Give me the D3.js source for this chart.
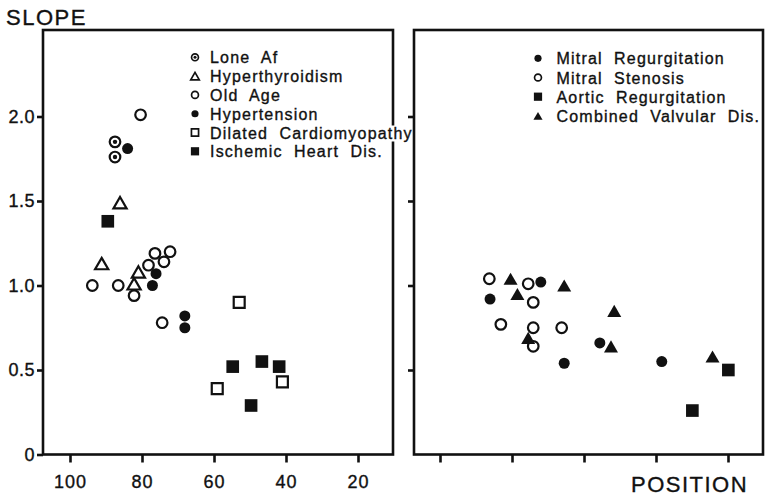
<!DOCTYPE html>
<html>
<head>
<meta charset="utf-8">
<script src="https://cdn.jsdelivr.net/npm/d3@7"></script>
<style>
  body { margin: 0; background: #fff; }
  svg { display: block; font-family: "Liberation Sans", Arial, sans-serif; }
  text { fill: #111; stroke: #111; stroke-width: 0.35px; }
</style>
</head>
<body>
<div id="chart"></div>
<script>
// values: [position, slope]
const loneAf = [[87.5, 1.85], [87.5, 1.76]];
const hyperthyroidism = [[86.1, 1.49], [91.2, 1.13], [81.0, 1.08], [82.2, 1.01]];
const oldAge = [[80.4, 2.01], [76.4, 1.19], [72.2, 1.20], [73.9, 1.14], [78.2, 1.12],
  [93.8, 1.00], [86.6, 1.00], [82.2, 0.94], [74.4, 0.78]];
const hypertension = [[84.0, 1.81], [76.1, 1.07], [77.1, 1.00], [68.1, 0.82], [68.1, 0.75]];
const dilatedCardio = [[53.0, 0.90], [59.1, 0.39], [41.0, 0.43]];
const ischemic = [[89.5, 1.38], [54.8, 0.52], [46.7, 0.55], [41.9, 0.52], [49.7, 0.29]];

const mitralRegurg = [[86.1, 0.92], [72.0, 1.02], [55.6, 0.66], [65.5, 0.54], [38.4, 0.55]];
const mitralStenosis = [[86.3, 1.04], [75.5, 1.01], [74.1, 0.90], [83.1, 0.77], [74.1, 0.75],
  [66.2, 0.75], [74.1, 0.64]];
const aorticRegurg = [[19.9, 0.50], [29.9, 0.26]];
const combinedValv = [[80.4, 1.04], [65.5, 1.00], [78.5, 0.95], [51.6, 0.85], [75.5, 0.69],
  [52.5, 0.64], [24.3, 0.58]];

const xTicks = [100, 80, 60, 40, 20];
const yTicks = [0, 0.5, 1.0, 1.5, 2.0];
const yTickLabels = ['0', '0.5', '1.0', '1.5', '2.0'];

const leftLegend = ['Lone  Af', 'Hyperthyroidism', 'Old  Age', 'Hypertension',
  'Dilated  Cardiomyopathy', 'Ischemic  Heart  Dis.'];
const rightLegend = ['Mitral  Regurgitation', 'Mitral  Stenosis', 'Aortic  Regurgitation',
  'Combined  Valvular  Dis.'];

const W = 765, H = 498;
const plotTop = 30, plotBottom = 454.5;

const svg = d3.select('#chart').append('svg').attr('width', W).attr('height', H);

const y = d3.scaleLinear().domain([0, 2]).range([plotBottom, 116.5]);
const xLeft = d3.scaleLinear().domain([100, 20]).range([70, 358]);
const xRight = d3.scaleLinear().domain([100, 20]).range([440, 728]);

// triangle centred on its bounding box, so it sits where it was read
const triBox = {
  draw(ctx, size) {
    const s = Math.sqrt(size * 4 / Math.sqrt(3)), h = s * Math.sqrt(3) / 2;
    ctx.moveTo(0, -h / 2);
    ctx.lineTo(s / 2, h / 2);
    ctx.lineTo(-s / 2, h / 2);
    ctx.closePath();
  }
};

const marker = {
  dot:    { type: d3.symbolCircle, size: Math.PI * 5.5 * 5.5, fill: '#111', stroke: 'none' },
  ring:   { type: d3.symbolCircle, size: Math.PI * 5.3 * 5.3, fill: '#fff', stroke: '#111' },
  target: { type: d3.symbolCircle, size: Math.PI * 5.3 * 5.3, fill: '#fff', stroke: '#111', inner: true },
  tri:    { type: triBox, size: 75, fill: '#fff', stroke: '#111' },
  triF:   { type: triBox, size: 85, fill: '#111', stroke: 'none' },
  box:    { type: d3.symbolSquare, size: 120, fill: '#fff', stroke: '#111' },
  boxF:   { type: d3.symbolSquare, size: 160, fill: '#111', stroke: 'none' }
};

function drawPoints(g, data, x, m) {
  const sym = d3.symbol().type(m.type).size(m.size);
  g.selectAll(null).data(data).enter().append('path')
    .attr('transform', d => 'translate(' + x(d[0]) + ',' + y(d[1]) + ')')
    .attr('d', sym)
    .attr('fill', m.fill)
    .attr('stroke', m.stroke)
    .attr('stroke-width', 2.2);
  if (m.inner) {
    g.selectAll(null).data(data).enter().append('circle')
      .attr('cx', d => x(d[0])).attr('cy', d => y(d[1])).attr('r', 2.2).attr('fill', '#111');
  }
}

function drawLegend(g, labels, marks, mx, tx, y0, step) {
  labels.forEach(function(label, i) {
    const cy = y0 + i * step, m = marks[i];
    const scale = 0.65;
    g.append('path')
      .attr('transform', 'translate(' + mx + ',' + cy + ') scale(' + scale + ')')
      .attr('d', d3.symbol().type(m.type).size(m.size))
      .attr('fill', m.fill).attr('stroke', m.stroke).attr('stroke-width', 2.6);
    if (m.inner) {
      g.append('circle').attr('cx', mx).attr('cy', cy).attr('r', 1.5).attr('fill', '#111');
    }
    g.append('text')
      .attr('class', 'legend-label')
      .attr('x', tx).attr('y', cy + 6)
      .style('white-space', 'pre')
      .style('font-size', '16px')
      .style('letter-spacing', '1.2px')
      .text(label);
  });
}

function frame(x0, x1) {
  svg.append('rect')
    .attr('x', x0).attr('y', plotTop)
    .attr('width', x1 - x0).attr('height', plotBottom - plotTop)
    .attr('fill', 'none').attr('stroke', '#111').attr('stroke-width', 2.6);
}

// ---------- left panel ----------
frame(43, 393);
const left = svg.append('g');

left.append('g')
  .attr('transform', 'translate(43,0)')
  .call(d3.axisLeft(y).tickValues(yTicks).tickSize(6).tickPadding(2)
    .tickFormat((d, i) => yTickLabels[i]))
  .call(g => g.select('.domain').remove())
  .call(g => g.selectAll('line').attr('stroke', '#111').attr('stroke-width', 2.6))
  .call(g => g.selectAll('text').attr('fill', '#111').style('font-size', '18px')
    .style('font-family', '"Liberation Sans", Arial, sans-serif').style('letter-spacing', '0.5px'));

left.append('g')
  .attr('transform', 'translate(0,' + plotBottom + ')')
  .call(d3.axisBottom(xLeft).tickValues(xTicks).tickSize(8).tickPadding(13))
  .call(g => g.select('.domain').remove())
  .call(g => g.selectAll('line').attr('stroke', '#111').attr('stroke-width', 2.6))
  .call(g => g.selectAll('text').attr('fill', '#111').style('font-size', '18px')
    .style('font-family', '"Liberation Sans", Arial, sans-serif').style('letter-spacing', '1px'));

const leftMarks = [marker.target, marker.tri, marker.ring, marker.dot, marker.box, marker.boxF];
drawLegend(left, leftLegend, leftMarks, 195, 210, 57.3, 18.8);

// the long label breaks the frame line in the original
const longLabel = left.selectAll('.legend-label').filter(function() { return this.textContent.indexOf('Cardio') >= 0; });
const bb = longLabel.node().getBBox();
left.insert('rect', () => longLabel.node())
  .attr('x', bb.x + bb.width - 30).attr('y', bb.y + 1)
  .attr('width', 32).attr('height', bb.height - 1)
  .attr('fill', '#fff');

drawPoints(left, loneAf, xLeft, marker.target);
drawPoints(left, hyperthyroidism, xLeft, marker.tri);
drawPoints(left, oldAge, xLeft, marker.ring);
drawPoints(left, hypertension, xLeft, marker.dot);
drawPoints(left, dilatedCardio, xLeft, marker.box);
drawPoints(left, ischemic, xLeft, marker.boxF);

// ---------- right panel ----------
frame(414, 763);
const right = svg.append('g');

right.append('g')
  .attr('transform', 'translate(414,0)')
  .call(d3.axisLeft(y).tickValues(yTicks.slice(1)).tickSize(6).tickFormat(''))
  .call(g => g.select('.domain').remove())
  .call(g => g.selectAll('line').attr('stroke', '#111').attr('stroke-width', 2.6));

right.append('g')
  .attr('transform', 'translate(0,' + plotBottom + ')')
  .call(d3.axisBottom(xRight).tickValues(xTicks).tickSize(8).tickFormat(''))
  .call(g => g.select('.domain').remove())
  .call(g => g.selectAll('line').attr('stroke', '#111').attr('stroke-width', 2.6));

const rightMarks = [marker.dot, marker.ring, marker.boxF, marker.triF];
drawLegend(right, rightLegend, rightMarks, 538, 556.5, 58.3, 19.2);

drawPoints(right, mitralRegurg, xRight, marker.dot);
drawPoints(right, mitralStenosis, xRight, marker.ring);
drawPoints(right, aorticRegurg, xRight, marker.boxF);
drawPoints(right, combinedValv, xRight, marker.triF);

// ---------- axis titles ----------
svg.append('text')
  .attr('x', 6).attr('y', 25)
  .style('font-size', '22px').style('letter-spacing', '1.5px')
  .text('SLOPE');

svg.append('text')
  .attr('x', 631).attr('y', 492)
  .style('font-size', '22px').style('letter-spacing', '1.5px')
  .text('POSITION');
</script>
</body>
</html>
